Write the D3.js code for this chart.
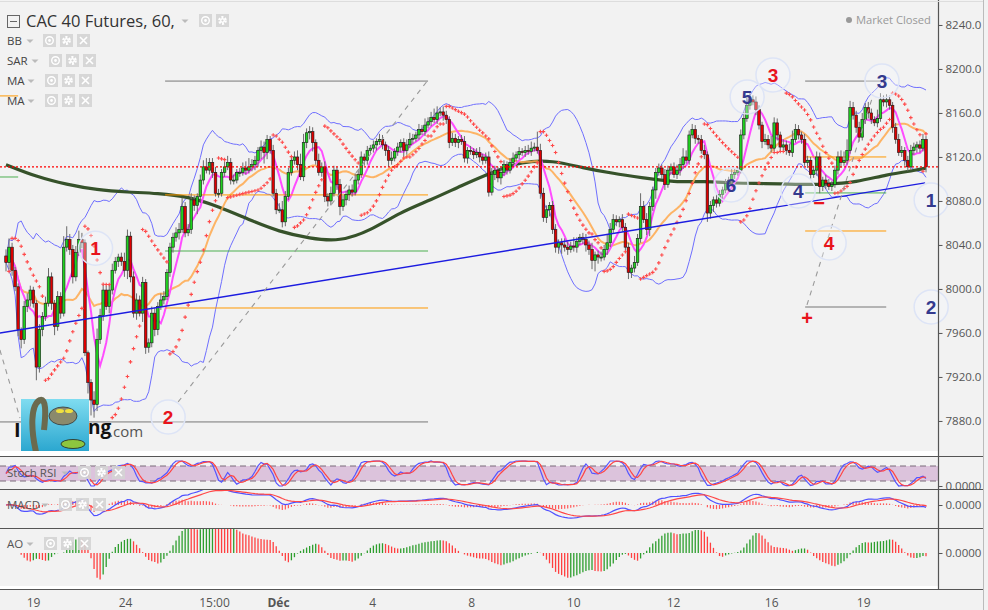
<!DOCTYPE html>
<html>
<head>
<meta charset="utf-8">
<script src="https://cdn.jsdelivr.net/npm/d3@7/dist/d3.min.js"></script>
<style>
  body { margin: 0; background: #f2f2f2; }
  svg { display: block; font-family: "Open Sans", sans-serif; }
</style>
</head>
<body>
<svg id="chart" width="988" height="610"></svg>
<script>
// clotures horaires
var closes = [
  8024,8038,8017,8002,7963,7954,7984,7990,7999,7987,
  7929,7963,7975,7987,8011,7987,7966,7993,7978,8038,
  8045,8036,8011,8033,8045,8042,7942,7915,7899,7895,
  7954,7976,7999,7984,7999,8017,8025,8029,8025,8017,
  8048,8011,7978,7990,7978,8006,7947,7951,7978,7963,
  7984,7990,7993,8015,8038,8047,8051,8054,8075,8051,
  8054,8081,8076,8084,8099,8111,8108,8115,8106,8087,
  8087,8106,8111,8115,8099,8099,8106,8106,8110,8108,
  8111,8113,8117,8126,8129,8124,8136,8126,8087,8072,
  8072,8061,8084,8106,8117,8120,8113,8102,8133,8142,
  8143,8133,8117,8106,8111,8084,
  8080,8087,8108,8095,8075,8081,8086,8090,8088,8099,
  8104,8120,8117,8126,8128,8131,8134,8136,8131,8126,
  8117,8119,8125,8129,8133,8126,8131,8136,8137,8140,
  8145,8143,8149,8152,8156,8154,8160,8161,8158,
  8154,8133,8137,8133,8136,8134,8119,8126,8125,8122,
  8124,8120,8117,8120,8088,8104,8108,8101,8106,8113,
  8108,8115,8119,8122,8125,8124,8126,8125,8128,8129,
  8126,8087,8065,8072,8076,8054,8038,8042,8040,8038,
  8036,8039,8038,8043,8047,8045,8040,8036,8026,8031,
  8029,8029,8036,8042,8054,8063,8061,8063,8056,8038,
  8015,8019,8024,8046,8075,8063,8054,8075,8090,8106,
  8110,8104,8095,8108,8111,8104,8108,8113,8120,8117,
  8140,8145,8137,8136,8126,8122,8069,
  8076,8081,8078,8086,8090,8096,8099,8104,8106,8108,
  8140,8155,8167,8172,8170,8163,8149,8134,8136,8131,
  8128,8151,8140,8129,8131,8126,8124,8136,8145,8140,
  8136,8115,8117,8104,8108,8120,8093,8099,8096,8093,
  8095,8108,8120,8115,8117,8126,8165,8158,8147,8138,
  8154,8165,8160,8154,8151,8155,8172,8170,8172,8167,
  8147,8136,8124,8126,8117,8111,8126,8129,8131,8128,
  8136,8111
];
var firstOpen = 8030;

// meches hautes et basses (points)
var wickUp = [
  6,8,4,3,3,2,5,6,4,3, 3,5,4,6,8,4,3,5,4,10, 12,5,4,6,8,6,3,2,3,8, 10,6,5,4,5,6,4,3,4,8,
  6,4,5,6,4,5,3,4,6,5, 4,6,5,3,4,4,5,6,8,4, 5,6,4,3,5,6,8,4,4,5, 4,3,5,6,4,5,3,4,5,6,
  8,5,4,3,6,5,4,3,5,4, 6,8,5,4,3,5,6,10,8,4, 5,4,3,6,4,5,
  3,6,4,3,5,4,3,4,5,6, 4,5,3,4,3,4,3,5,4,3, 4,6,3,4,3,4,5,6,4,3, 5,4,6,4,5,8,6,4,5,
  4,3,5,4,3,4,5,3,4,3, 4,5,3,4,5,6,4,3,5,4, 3,4,5,3,4,3,4,5,6,4, 14,6,5,4,3,4,5,3,4,6,
  5,4,8,4,3,4,5,4,6,3, 4,5,4,8,6,5,4,3,5,4, 4,3,6,4,12,5,6,4,3,4, 4,3,5,4,3,4,5,6,8,6,
  4,5,4,3,4,5,3,
  4,3,5,4,3,4,3,5,4,3, 5,6,8,6,4,5,4,3,5,4, 8,5,4,3,5,4,6,8,5,4, 3,5,4,3,4,5,4,3,5,4,
  3,4,5,6,8,10,6,5,4,5, 6,4,5,4,3,8,6,4,5,4, 3,4,5,4,3,4,5,4,3,4, 5,3
];
var wickDn = [
  8,6,5,4,6,8,4,5,6,4, 12,5,6,4,3,6,8,4,5,3, 4,5,6,4,3,5,3,10,14,12, 6,4,5,3,6,4,3,5,4,6,
  8,5,4,6,3,8,6,5,4,6, 5,3,4,3,4,5,4,6,3,4, 3,4,5,8,6,4,3,4,5,3, 4,3,4,3,4,4,3,4,3,4,
  3,4,5,6,8,10,6,3,3,4, 3,5,4,3,3,4,5,3,4,5, 6,8,4,3,4,5,
  5,4,3,5,8,4,5,6,4,3, 4,3,5,4,3,4,5,3,4,5, 6,4,3,4,5,6,4,3,4,3, 4,3,4,3,4,3,4,3,5,
  4,5,3,4,5,3,4,5,3,4, 3,5,4,3,4,3,5,4,6,3, 4,3,4,3,4,3,4,3,4,3, 3,5,4,5,6,4,5,6,8,4,
  5,3,4,5,3,4,6,5,8,10, 6,4,3,5,4,3,4,5,4,3, 6,5,4,3,4,3,5,6,4,8, 3,4,5,3,4,3,4,5,4,3,
  4,3,5,4,3,4,8,
  5,6,4,3,4,3,4,3,4,3, 3,4,3,4,3,5,4,6,3,4, 4,3,5,4,3,4,3,4,3,4, 4,3,5,4,3,5,6,4,5,3,
  4,3,4,5,3,4,3,4,5,4, 3,4,5,4,3,4,3,4,5,4, 5,4,3,4,5,4,3,4,5,4, 3,5
];

// moyenne longue
var longMAIdx = [0,10,20,30,40,50,60,70,80,90,100,110,120,130,140,150,160,170,180,190,200,210,220,230,240,250,260,270,280,290,300,303];
var longMAVal = [8113,8102,8095,8090,8088,8087,8084,8075,8063,8052,8046,8043,8053,8070,8081,8094,8106,8116,8117,8110,8105,8101,8097,8098,8096,8096,8095,8095,8097,8104,8108,8110];

// axe du temps
var tickIdx = [8.9, 39.2, 68.5, 89.6, 120.6, 153.2, 186.8, 219.7, 252, 282.3];
var tickLabels = ["19", "24", "15:00", "Déc", "4", "8", "10", "12", "16", "19"];
var priceTicks = [7880, 7920, 7960, 8000, 8040, 8080, 8120, 8160, 8200, 8240];

// dessins (fibo, tendance, vagues)
var fibA = [8189, 8085.5, 8034.5, 7982.7, 7879.1];
var fibAIdx = [52.4, 139];
var fibB = [8189, 8120, 8087.3, 8052.7, 7983.6];
var fibBIdx = [263.2, 289.9];
var trendIdx = [-2, 302.7], trendPrice = [7960, 8096.4];
var dashIdx = [[56.7, 139], [263.8, 285.6], [-2, 4.6]];
var dashPrice = [[7897.3, 8190], [7985.5, 8176.4], [7944.5, 7882.7]];
var redWaves = [["1", 29.5, 8037], ["2", 53.4, 7883.6], ["3", 252.6, 8194.5], ["4", 271.1, 8041.8]];
var blueWaves = [["5", 244.1, 8174.5], ["6", 238.8, 8094.5], ["4", 260.9, 8089.1], ["3", 288.5, 8189], ["1", 304.7, 8080.9], ["2", 304.7, 7983.6]];
var signs = [["\u2212", 267.8, 8078.2], ["+", 263.8, 7973.6]];

var W = 988, H = 610, axisX = 938;
var n = closes.length;
var opens = closes.map(function(c, i) { return i === 0 ? firstOpen : closes[i - 1]; });
var highs = closes.map(function(c, i) { return Math.max(c, opens[i]) + (wickUp[i] != null ? wickUp[i] : 3); });
var lows = closes.map(function(c, i) { return Math.min(c, opens[i]) - (wickDn[i] != null ? wickDn[i] : 3); });

var x = d3.scaleLinear().domain([0, 303]).range([6, 926]);
var y = d3.scaleLinear().domain([7853.6, 8262.7]).range([450, 0]);

// indicateurs
function sma(a, len) {
  return a.map(function(v, i) { return d3.mean(a.slice(Math.max(0, i - len + 1), i + 1)); });
}
function ema(a, len) {
  var k = 2 / (len + 1), p;
  return a.map(function(v, i) { p = i === 0 ? v : v * k + p * (1 - k); return p; });
}
var ma6 = sma(closes, 6);
var ma20 = sma(closes, 20);
var bbUp = [], bbDn = [];
closes.forEach(function(c, i) {
  var w = closes.slice(Math.max(0, i - 19), i + 1);
  var m = d3.mean(w);
  var sd = Math.sqrt(d3.mean(w, function(v) { return (v - m) * (v - m); }));
  bbUp.push(m + 2 * sd); bbDn.push(m - 2 * sd);
});

// parabolic SAR
var sar = [];
(function() {
  var up = closes[1] >= closes[0], af = 0.02, ep = up ? highs[0] : lows[0], s = up ? lows[0] : highs[0];
  sar.push(s);
  for (var i = 1; i < n; i++) {
    s = s + af * (ep - s);
    if (up) {
      s = Math.min(s, lows[i - 1], lows[Math.max(0, i - 2)]);
      if (lows[i] < s) { up = false; s = ep; ep = lows[i]; af = 0.02; }
      else if (highs[i] > ep) { ep = highs[i]; af = Math.min(af + 0.02, 0.2); }
    } else {
      s = Math.max(s, highs[i - 1], highs[Math.max(0, i - 2)]);
      if (highs[i] > s) { up = true; s = ep; ep = highs[i]; af = 0.02; }
      else if (lows[i] < ep) { ep = lows[i]; af = Math.min(af + 0.02, 0.2); }
    }
    sar.push(s);
  }
})();

// stoch RSI
var rsi = [50];
(function() {
  var ag = 0, al = 0;
  for (var i = 1; i < n; i++) {
    var ch = closes[i] - closes[i - 1], g = Math.max(ch, 0), l = Math.max(-ch, 0);
    if (i === 1) { ag = g; al = l; } else { ag = (ag * 13 + g) / 14; al = (al * 13 + l) / 14; }
    rsi.push(al === 0 ? 100 : 100 - 100 / (1 + ag / al));
  }
})();
var stRaw = rsi.map(function(r, i) {
  var w = rsi.slice(Math.max(0, i - 13), i + 1), lo = d3.min(w), hi = d3.max(w);
  return hi === lo ? 50 : (r - lo) / (hi - lo) * 100;
});
var stK = sma(stRaw, 3), stD = sma(stK, 3);

// MACD
var e12 = ema(closes, 12), e26 = ema(closes, 26);
var macd = e12.map(function(v, i) { return v - e26[i]; });
var sig = ema(macd, 9);
var hist = macd.map(function(v, i) { return v - sig[i]; });

// AO
var med = highs.map(function(h, i) { return (h + lows[i]) / 2; });
var s5 = sma(med, 5), s34 = sma(med, 34);
var ao = s5.map(function(v, i) { return v - s34[i]; });

var svg = d3.select("#chart");
svg.append("rect").attr("width", W).attr("height", H).attr("fill", "#f2f2f2");
var defs = svg.append("defs");
defs.append("clipPath").attr("id", "clipMain").append("rect").attr("x", 0).attr("y", 0).attr("width", axisX).attr("height", 451);
defs.append("clipPath").attr("id", "clipSt").append("rect").attr("x", 0).attr("y", 457).attr("width", axisX).attr("height", 32);
defs.append("clipPath").attr("id", "clipM").append("rect").attr("x", 0).attr("y", 490).attr("width", axisX).attr("height", 38);
defs.append("clipPath").attr("id", "clipA").append("rect").attr("x", 0).attr("y", 529).attr("width", axisX).attr("height", 58);

var main = svg.append("g").attr("clip-path", "url(#clipMain)");
var idx = d3.range(n);

function seriesLine(arr, yS) {
  return d3.line().defined(function(i) { return isFinite(arr[i]); })
    .x(function(i) { return x(i); }).y(function(i) { return yS(arr[i]); });
}

// fibo gauche : petits restes au bord
main.append("line").attr("x1", x(-2)).attr("x2", x(4)).attr("y1", y(8175.5)).attr("y2", y(8175.5)).attr("stroke", "#ff9800");
main.append("line").attr("x1", x(-2)).attr("x2", x(4)).attr("y1", y(8101.8)).attr("y2", y(8101.8)).attr("stroke", "#4caf50");

// bandes de bollinger
main.append("path").attr("d", seriesLine(bbUp, y)(idx)).attr("fill", "none").attr("stroke", "#6f6fff").attr("stroke-width", 1);
main.append("path").attr("d", seriesLine(bbDn, y)(idx)).attr("fill", "none").attr("stroke", "#6f6fff").attr("stroke-width", 1);

// moyenne longue
main.append("path")
  .attr("d", d3.line().curve(d3.curveBasis).x(function(d, i) { return x(longMAIdx[i]); }).y(function(d) { return y(d); })(longMAVal))
  .attr("fill", "none").attr("stroke", "#36522a").attr("stroke-width", 3.2);
main.append("path").attr("d", seriesLine(ma20, y)(idx)).attr("fill", "none").attr("stroke", "#ffa94d").attr("stroke-width", 2).attr("opacity", 0.85);
main.append("path").attr("d", seriesLine(ma6, y)(idx)).attr("fill", "none").attr("stroke", "#ff4dff").attr("stroke-width", 2);

// fibo lines
var fibColors = ["#777", "#ff9800", "#4caf50", "#ff9800", "#777"];
fibA.forEach(function(p, k) {
  main.append("line").attr("x1", x(k === 4 ? -2 : fibAIdx[0])).attr("x2", x(fibAIdx[1]))
    .attr("y1", y(p)).attr("y2", y(p)).attr("stroke", fibColors[k]).attr("stroke-width", 1);
});
fibB.forEach(function(p, k) {
  main.append("line").attr("x1", x(fibBIdx[0])).attr("x2", x(fibBIdx[1]))
    .attr("y1", y(p)).attr("y2", y(p)).attr("stroke", fibColors[k]).attr("stroke-width", 1);
});

// bougies
main.append("g").selectAll("line").data(idx).join("line")
  .attr("x1", function(i) { return x(i); }).attr("x2", function(i) { return x(i); })
  .attr("y1", function(i) { return y(highs[i]); }).attr("y2", function(i) { return y(lows[i]); })
  .attr("stroke", "#6a6a6a").attr("stroke-width", 1);
main.append("g").selectAll("rect").data(idx).join("rect")
  .attr("x", function(i) { return x(i) - 1.3; }).attr("width", 2.6)
  .attr("y", function(i) { return y(Math.max(opens[i], closes[i])); })
  .attr("height", function(i) { return Math.max(1, Math.abs(y(opens[i]) - y(closes[i]))); })
  .attr("fill", function(i) { return closes[i] >= opens[i] ? "#1fd11f" : "#e00000"; })
  .attr("stroke", "#1a1a1a").attr("stroke-width", 0.6);

// SAR
main.append("g").selectAll("path").data(idx.slice(1)).join("path")
  .attr("d", "M-1.8,0H1.8M0,-1.8V1.8")
  .attr("transform", function(i) { return "translate(" + x(i) + "," + y(sar[i]) + ")"; })
  .attr("stroke", "#ff4a4a").attr("stroke-width", 1.1);

// tendance et derniere valeur
main.append("line").attr("x1", x(trendIdx[0])).attr("x2", x(trendIdx[1]))
  .attr("y1", y(trendPrice[0])).attr("y2", y(trendPrice[1])).attr("stroke", "#1c1ce0").attr("stroke-width", 1.4);
main.append("line").attr("x1", 0).attr("x2", axisX).attr("y1", y(closes[n - 1])).attr("y2", y(closes[n - 1]))
  .attr("stroke", "#ff0000").attr("stroke-width", 1.2).attr("stroke-dasharray", "2,2");
dashIdx.forEach(function(d, k) {
  main.append("line").attr("x1", x(d[0])).attr("x2", x(d[1]))
    .attr("y1", y(dashPrice[k][0])).attr("y2", y(dashPrice[k][1]))
    .attr("stroke", "#999").attr("stroke-width", 1.1).attr("stroke-dasharray", "5,5");
});

// logo
var grad = defs.append("linearGradient").attr("id", "lg").attr("x1", 0).attr("y1", 0).attr("x2", 0).attr("y2", 1);
grad.append("stop").attr("offset", "0%").attr("stop-color", "#7fdcf0");
grad.append("stop").attr("offset", "100%").attr("stop-color", "#2aa6cf");
main.append("text").attr("x", 14).attr("y", 437).attr("font-size", 20).attr("font-weight", "bold").attr("fill", "#111").text("I");
main.append("text").attr("x", 88).attr("y", 434).attr("font-size", 19).attr("font-weight", "bold").attr("fill", "#111").text("ng");
main.append("text").attr("x", 109).attr("y", 437).attr("font-size", 15).attr("fill", "#555").text(".com");
main.append("rect").attr("x", 21).attr("y", 399).attr("width", 68).attr("height", 53).attr("fill", "url(#lg)");
main.append("path").attr("d", "M36,452 C31,430 30,405 40,400 C46,398 46,412 44,430")
  .attr("fill", "none").attr("stroke", "#6b6a4e").attr("stroke-width", 6);
main.append("ellipse").attr("cx", 63).attr("cy", 416).attr("rx", 14).attr("ry", 9).attr("fill", "#8b8a6c").attr("stroke", "#333").attr("stroke-width", 0.8);
main.append("ellipse").attr("cx", 60).attr("cy", 411).attr("rx", 4).attr("ry", 2).attr("fill", "#f0e040");
main.append("ellipse").attr("cx", 69).attr("cy", 411).attr("rx", 4).attr("ry", 2).attr("fill", "#f0e040");
main.append("ellipse").attr("cx", 73).attr("cy", 444).attr("rx", 12).attr("ry", 4.5).attr("fill", "#8dc63f").attr("stroke", "#222").attr("stroke-width", 0.8);

// vagues
var wavesG = svg.append("g").attr("font-family", "Liberation Sans, Arial, sans-serif").attr("font-weight", "bold");
function wave(list, color) {
  list.forEach(function(w) {
    wavesG.append("circle").attr("cx", x(w[1])).attr("cy", y(w[2])).attr("r", 17)
      .attr("fill", "rgba(246,248,255,0.35)").attr("stroke", "#dde4f6").attr("stroke-width", 1.5);
    wavesG.append("text").attr("x", x(w[1])).attr("y", y(w[2])).attr("dy", "0.36em")
      .attr("text-anchor", "middle").attr("font-size", 19).attr("fill", color).text(w[0]);
  });
}
wave(redWaves, "#e8141c");
wave(blueWaves, "#343a8e");
signs.forEach(function(s) {
  wavesG.append("text").attr("x", x(s[1])).attr("y", y(s[2])).attr("dy", "0.36em")
    .attr("text-anchor", "middle").attr("font-size", 20).attr("fill", "#e8141c").text(s[0]);
});

// stoch RSI
var ySt = d3.scaleLinear().domain([0, 100]).range([486, 461]);
var stG = svg.append("g").attr("clip-path", "url(#clipSt)");
stG.append("rect").attr("x", 0).attr("width", axisX).attr("y", ySt(80)).attr("height", ySt(20) - ySt(80)).attr("fill", "#dcc3dc");
[80, 20].forEach(function(v) {
  stG.append("line").attr("x1", 0).attr("x2", axisX).attr("y1", ySt(v)).attr("y2", ySt(v))
    .attr("stroke", "#7a6a7a").attr("stroke-dasharray", "6,4");
});
stG.append("path").attr("d", seriesLine(stK, ySt)(idx)).attr("fill", "none").attr("stroke", "#5555ff").attr("stroke-width", 1.2);
stG.append("path").attr("d", seriesLine(stD, ySt)(idx)).attr("fill", "none").attr("stroke", "#ff4444").attr("stroke-width", 1.2);

// MACD
var mMax = d3.max(macd.concat(sig), function(v) { return Math.abs(v); });
var yM = d3.scaleLinear().domain([0, mMax]).range([505, 505 - 17]);
var hMax = d3.max(hist, function(v) { return Math.abs(v); });
var yH = d3.scaleLinear().domain([0, hMax]).range([505, 505 - 7]);
var mG = svg.append("g").attr("clip-path", "url(#clipM)");
mG.append("g").selectAll("line").data(idx).join("line")
  .attr("x1", function(i) { return x(i); }).attr("x2", function(i) { return x(i); })
  .attr("y1", yH(0)).attr("y2", function(i) { return yH(hist[i]); })
  .attr("stroke", "#ff5a5a").attr("stroke-width", 1.2);
mG.append("path").attr("d", seriesLine(macd, yM)(idx)).attr("fill", "none").attr("stroke", "#5050ff").attr("stroke-width", 1.2);
mG.append("path").attr("d", seriesLine(sig, yM)(idx)).attr("fill", "none").attr("stroke", "#ff4848").attr("stroke-width", 1.2);

// AO
var aMax = d3.max(ao, function(v) { return Math.abs(v); });
var yA = d3.scaleLinear().domain([0, aMax]).range([553, 553 - 31]);
var aG = svg.append("g").attr("clip-path", "url(#clipA)");
aG.append("g").selectAll("line").data(idx).join("line")
  .attr("x1", function(i) { return x(i); }).attr("x2", function(i) { return x(i); })
  .attr("y1", yA(0)).attr("y2", function(i) { return yA(ao[i]); })
  .attr("stroke", function(i) { return i > 0 && ao[i] < ao[i - 1] ? "#ff4040" : "#2e9e2e"; })
  .attr("stroke-width", 1.3);

// separateurs de panneaux
svg.append("rect").attr("x", 0).attr("y", 451).attr("width", axisX).attr("height", 5).attr("fill", "#fff");
svg.append("rect").attr("x", 0).attr("y", 586).attr("width", axisX).attr("height", 3).attr("fill", "#fff");
[456.5, 489.5, 528.5, 589.5].forEach(function(v) {
  svg.append("line").attr("x1", 0).attr("x2", 983).attr("y1", v).attr("y2", v).attr("stroke", "#555").attr("stroke-width", 1.2);
});
svg.append("line").attr("x1", axisX + 0.5).attr("x2", axisX + 0.5).attr("y1", 0).attr("y2", 590).attr("stroke", "#555").attr("stroke-width", 1.2);
svg.append("line").attr("x1", 983.5).attr("x2", 983.5).attr("y1", 0).attr("y2", 610).attr("stroke", "#bbb");
svg.append("line").attr("x1", 0).attr("x2", 983).attr("y1", 1.5).attr("y2", 1.5).attr("stroke", "#ddd");

// axes
var yAxis = d3.axisRight(y).tickValues(priceTicks).tickFormat(d3.format(".1f")).tickSize(4).tickPadding(3);
var yAxG = svg.append("g").attr("transform", "translate(" + (axisX + 0.5) + ",0)").call(yAxis);
yAxG.select(".domain").remove();
yAxG.selectAll("line").attr("stroke", "#555");
yAxG.selectAll("text").attr("font-size", 11.5).attr("fill", "#555").attr("font-family", "Open Sans, sans-serif");

[[ySt, 0], [yM, 0], [yA, 0]].forEach(function(p) {
  var g = svg.append("g").attr("transform", "translate(" + (axisX + 0.5) + ",0)")
    .call(d3.axisRight(p[0]).tickValues([p[1]]).tickFormat(d3.format(".4f")).tickSize(4).tickPadding(3));
  g.select(".domain").remove();
  g.selectAll("line").attr("stroke", "#555");
  g.selectAll("text").attr("font-size", 11.5).attr("fill", "#555").attr("font-family", "Open Sans, sans-serif");
});
svg.append("line").attr("x1", axisX + 1).attr("x2", 983).attr("y1", 489.5).attr("y2", 489.5).attr("stroke", "#555").attr("stroke-width", 1.2);
svg.append("rect").attr("x", axisX + 2).attr("y", 490.2).attr("width", 43).attr("height", 3).attr("fill", "#f2f2f2");

var xAxis = d3.axisBottom(x).tickValues(tickIdx).tickFormat(function(d, i) { return tickLabels[i]; }).tickSize(0).tickPadding(8);
var xAxG = svg.append("g").attr("transform", "translate(0,590)").call(xAxis);
xAxG.select(".domain").remove();
xAxG.selectAll("text").attr("font-size", 12).attr("fill", "#555").attr("font-family", "Open Sans, sans-serif")
  .attr("font-weight", function(d, i) { return tickLabels[i] === "Déc" ? "bold" : "normal"; });

// en-tete et legendes
var hd = svg.append("g");
function icons(x0, y0, count) {
  d3.range(count).forEach(function(k) {
    var bx = x0 + k * 17;
    hd.append("rect").attr("x", bx).attr("y", y0).attr("width", 13).attr("height", 13).attr("fill", "#d4d4d4").attr("opacity", 0.9);
    if (k === 0) {
      hd.append("circle").attr("cx", bx + 6.5).attr("cy", y0 + 6.5).attr("r", 3.8).attr("fill", "none").attr("stroke", "#fff").attr("stroke-width", 1.4);
      hd.append("circle").attr("cx", bx + 6.5).attr("cy", y0 + 6.5).attr("r", 1.4).attr("fill", "#fff");
    } else if (k === 1) {
      hd.append("circle").attr("cx", bx + 6.5).attr("cy", y0 + 6.5).attr("r", 3.2).attr("fill", "none").attr("stroke", "#fff").attr("stroke-width", 2.4).attr("stroke-dasharray", "2,1.4");
      hd.append("circle").attr("cx", bx + 6.5).attr("cy", y0 + 6.5).attr("r", 2.4).attr("fill", "#fff");
      hd.append("circle").attr("cx", bx + 6.5).attr("cy", y0 + 6.5).attr("r", 1.1).attr("fill", "#d4d4d4");
    } else {
      hd.append("path").attr("d", "M" + (bx + 3) + "," + (y0 + 3) + "L" + (bx + 10) + "," + (y0 + 10) + "M" + (bx + 10) + "," + (y0 + 3) + "L" + (bx + 3) + "," + (y0 + 10))
        .attr("stroke", "#fff").attr("stroke-width", 1.6);
    }
  });
}
function caret(cx, cy) {
  hd.append("path").attr("d", "M" + (cx - 3.5) + "," + (cy - 1.5) + "h7l-3.5,3.5z").attr("fill", "#bbb");
}
hd.append("rect").attr("x", 7.5).attr("y", 15.5).attr("width", 12).attr("height", 12).attr("fill", "none").attr("stroke", "#666");
hd.append("line").attr("x1", 10).attr("x2", 17).attr("y1", 21.5).attr("y2", 21.5).attr("stroke", "#666");
hd.append("text").attr("x", 26).attr("y", 27).attr("font-size", 16.5).attr("fill", "#333").text("CAC 40 Futures, 60,");
caret(185, 21);
icons(199, 14, 2);

var legendRows = [["BB", 45, 30, 43], ["SAR", 65, 35, 49], ["MA", 85, 31, 45], ["MA", 105, 31, 45]];
legendRows.forEach(function(r) {
  hd.append("text").attr("x", 7).attr("y", r[1]).attr("font-size", 11.5).attr("fill", "#444").text(r[0]);
  caret(r[2], r[1] - 4);
  icons(r[3], r[1] - 11, 3);
});
var paneRows = [["Stoch RSI", 477, 65, 78], ["MACD", 509, 45, 59], ["AO", 548, 30, 44]];
paneRows.forEach(function(r) {
  hd.append("text").attr("x", 7).attr("y", r[1]).attr("font-size", 11.5).attr("fill", "#555").text(r[0]);
  caret(r[2], r[1] - 4);
  icons(r[3], r[1] - 11, 3);
});

hd.append("circle").attr("cx", 849).attr("cy", 20).attr("r", 3).attr("fill", "#999");
hd.append("text").attr("x", 856).attr("y", 24).attr("font-size", 11.2).attr("fill", "#999").text("Market Closed");
</script>
</body>
</html>
